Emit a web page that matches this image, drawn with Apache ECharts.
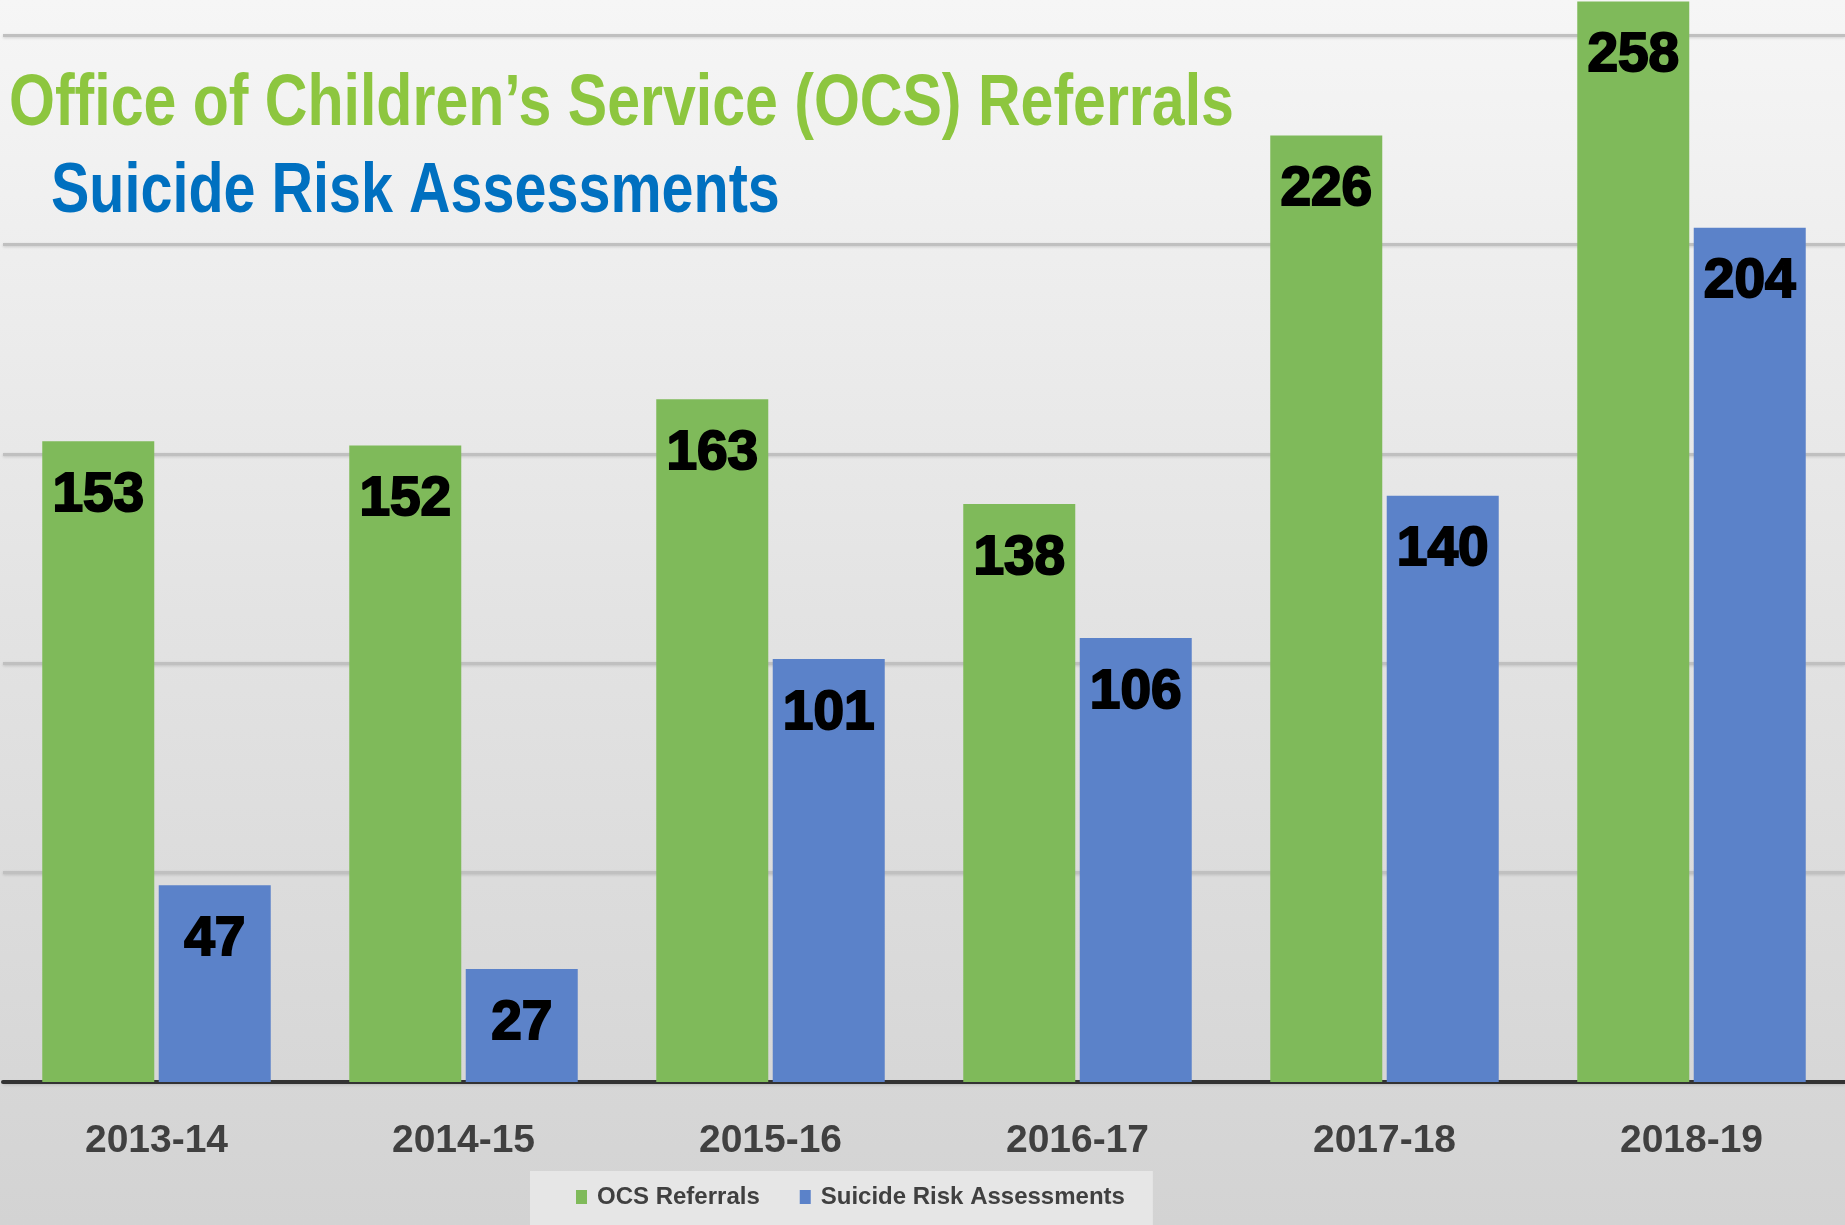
<!DOCTYPE html>
<html>
<head>
<meta charset="utf-8">
<script src="https://cdn.jsdelivr.net/npm/echarts@6/dist/echarts.min.js"></script>
<style>
  html, body { margin: 0; padding: 0; }
  #chart { width: 1845px; height: 1225px; }
</style>
</head>
<body>
<div id="chart"></div>
<script>
// data
var years = ['2013-14', '2014-15', '2015-16', '2016-17', '2017-18', '2018-19'];
var ocsReferrals = [153, 152, 163, 138, 226, 258];
var suicideRisk = [47, 27, 101, 106, 140, 204];

var titleMain = 'Office of Children\u2019s Service (OCS) Referrals';
var titleSub = 'Suicide Risk Assessments';

var font = '"Liberation Sans", Arial, sans-serif';

var myChart = echarts.init(document.getElementById('chart'));

// labels on top of the bars, black and heavy
var barLabel = {
  show: true,
  position: 'insideTop',
  distance: 27,
  color: '#000',
  fontFamily: font,
  fontWeight: 'bold',
  fontSize: 55,
  textBorderColor: '#000',
  textBorderWidth: 2
};

myChart.setOption({
  animation: false,
  backgroundColor: {
    type: 'linear', x: 0, y: 0, x2: 0, y2: 1,
    colorStops: [
      { offset: 0, color: '#f6f6f6' },
      { offset: 0.5, color: '#e3e3e3' },
      { offset: 1, color: '#d3d3d3' }
    ]
  },
  // the titles are condensed with scaleX, no narrow font installed
  graphic: [
    {
      type: 'text',
      x: 9,
      y: 69,
      scaleX: 0.82,
      z: 10,
      style: {
        text: titleMain,
        fill: '#8dc63f',
        font: 'bold 72px ' + font,
        align: 'left',
        verticalAlign: 'top'
      }
    },
    {
      type: 'text',
      x: 51,
      y: 157,
      scaleX: 0.81,
      z: 10,
      style: {
        text: titleSub,
        fill: '#0070c0',
        font: 'bold 71px ' + font,
        align: 'left',
        verticalAlign: 'top'
      }
    }
  ],
  legend: {
    data: ['OCS Referrals', 'Suicide Risk Assessments'],
    left: 530,
    top: 1171,
    padding: [14, 28, 16, 46],
    backgroundColor: '#e6e6e6',
    itemWidth: 11,
    itemHeight: 14,
    itemGap: 40,
    icon: 'rect',
    textStyle: {
      color: '#404040',
      fontFamily: font,
      fontWeight: 'bold',
      fontSize: 24,
      padding: [0, 0, 0, 5]
    }
  },
  grid: { left: 3, right: 0, top: 35, bottom: 143 },
  xAxis: {
    type: 'category',
    data: years,
    axisLine: { lineStyle: { color: '#333', width: 4 } },
    axisTick: { show: false },
    axisLabel: {
      margin: 40,
      color: '#404040',
      fontFamily: font,
      fontWeight: 'bold',
      fontSize: 39
    }
  },
  yAxis: {
    type: 'value',
    min: 0,
    max: 250,
    interval: 50,
    axisLabel: { show: false },
    axisLine: { show: false },
    axisTick: { show: false },
    splitLine: {
      lineStyle: {
        color: '#c0c0c0',
        width: 3,
        shadowColor: 'rgba(0,0,0,0.15)',
        shadowBlur: 3,
        shadowOffsetY: 1
      }
    }
  },
  series: [
    {
      name: 'OCS Referrals',
      type: 'bar',
      data: ocsReferrals,
      barWidth: 112,
      barGap: '4%',
      clip: false,
      itemStyle: { color: '#7fba5a' },
      label: barLabel
    },
    {
      name: 'Suicide Risk Assessments',
      type: 'bar',
      data: suicideRisk,
      barWidth: 112,
      clip: false,
      itemStyle: { color: '#5b82c9' },
      label: barLabel
    }
  ]
});
</script>
</body>
</html>
